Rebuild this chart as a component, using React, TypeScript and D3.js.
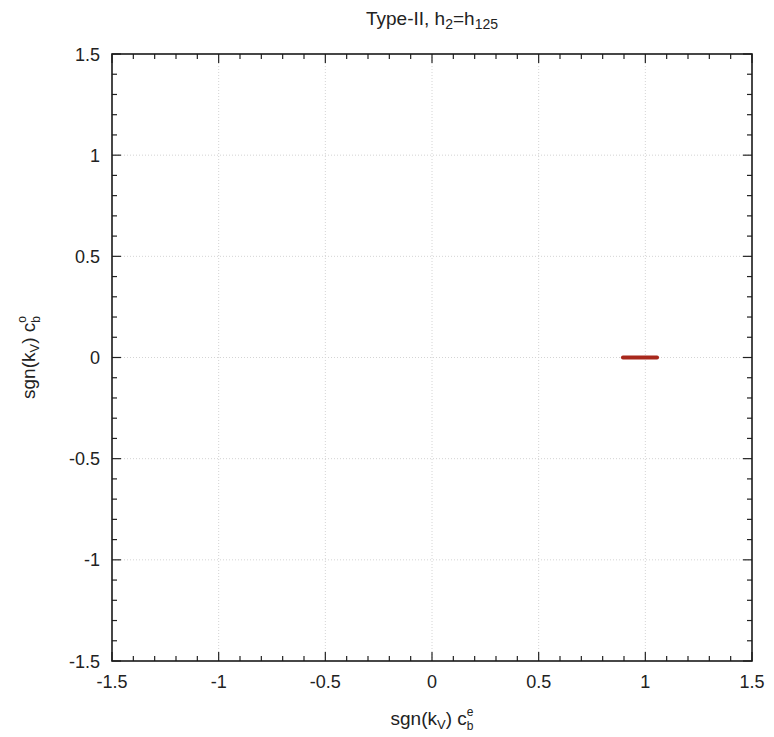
import React from "react";
import * as d3 from "d3";

const xDomain = [-1.5, 1.5];
const yDomain = [-1.5, 1.5];
const majorTicks = [-1.5, -1, -0.5, 0, 0.5, 1, 1.5];
const tickLabels = ["-1.5", "-1", "-0.5", "0", "0.5", "1", "1.5"];
const minorTicks = [
  -1.4, -1.3, -1.2, -1.1, -0.9, -0.8, -0.7, -0.6, -0.4, -0.3, -0.2, -0.1,
  0.1, 0.2, 0.3, 0.4, 0.6, 0.7, 0.8, 0.9, 1.1, 1.2, 1.3, 1.4,
];
// scan points: sgn(kV) c_b^e (x) vs sgn(kV) c_b^o (y)
const pointsX = [0.895, 0.92, 0.95, 0.975, 1.0, 1.02, 1.04, 1.055];
const pointsY = [0, 0, 0, 0, 0, 0, 0, 0];

const W = 774;
const H = 737;
const L = 112, R = 752, T = 54, B = 661;
const FONT = "'Liberation Sans', Arial, sans-serif";
const TXT = "#222";

export default function App() {
  const x = d3.scaleLinear().domain(xDomain).range([L, R]);
  const y = d3.scaleLinear().domain(yDomain).range([B, T]);
  const line = d3
    .line<number>()
    .x((_, i) => x(pointsX[i]))
    .y((_, i) => y(pointsY[i]));
  const majLen = 9;
  const minLen = 5;
  return (
    <svg
      width={W}
      height={H}
      style={{ position: "absolute", left: 0, top: 0, background: "#fff" }}
      fontFamily={FONT}
    >
      <rect x={0} y={0} width={W} height={H} fill="#fff" />
      {/* grid */}
      {majorTicks.slice(1, -1).map((v) => (
        <g key={"g" + v}>
          <line x1={x(v)} x2={x(v)} y1={T} y2={B} stroke="#d4d4d4" strokeWidth={1} strokeDasharray="1,2" />
          <line x1={L} x2={R} y1={y(v)} y2={y(v)} stroke="#d4d4d4" strokeWidth={1} strokeDasharray="1,2" />
        </g>
      ))}
      {/* data */}
      <path
        d={line(pointsX) || ""}
        fill="none"
        stroke="#a8281c"
        strokeWidth={4}
        strokeLinecap="round"
      />
      {/* ticks */}
      {majorTicks.map((v) => (
        <g key={"M" + v} stroke="#222" strokeWidth={1.2}>
          <line x1={x(v)} x2={x(v)} y1={B} y2={B - majLen} />
          <line x1={x(v)} x2={x(v)} y1={T} y2={T + majLen} />
          <line x1={L} x2={L + majLen} y1={y(v)} y2={y(v)} />
          <line x1={R} x2={R - majLen} y1={y(v)} y2={y(v)} />
        </g>
      ))}
      {minorTicks.map((v) => (
        <g key={"m" + v} stroke="#222" strokeWidth={1.2}>
          <line x1={x(v)} x2={x(v)} y1={B} y2={B - minLen} />
          <line x1={x(v)} x2={x(v)} y1={T} y2={T + minLen} />
          <line x1={L} x2={L + minLen} y1={y(v)} y2={y(v)} />
          <line x1={R} x2={R - minLen} y1={y(v)} y2={y(v)} />
        </g>
      ))}
      {/* frame */}
      <rect x={L} y={T} width={R - L} height={B - T} fill="none" stroke="#1a1a1a" strokeWidth={1.6} />
      {/* tick labels */}
      {majorTicks.map((v, i) => (
        <text key={"xl" + v} x={x(v)} y={B + 27} textAnchor="middle" fontSize={18} fill={TXT}>
          {tickLabels[i]}
        </text>
      ))}
      {majorTicks.map((v, i) => (
        <text key={"yl" + v} x={L - 12} y={y(v) + 6.5} textAnchor="end" fontSize={18} fill={TXT}>
          {tickLabels[i]}
        </text>
      ))}
      {/* title */}
      <text x={432} y={25} textAnchor="middle" fontSize={19} fill={TXT}>
        Type-II, h
        <tspan fontSize={14} dy={4}>2</tspan>
        <tspan dy={-4}>=h</tspan>
        <tspan fontSize={14} dy={4}>125</tspan>
      </text>
      {/* x label */}
      <text x={432} y={725} textAnchor="middle" fontSize={19} fill={TXT}>
        sgn(k
        <tspan fontSize={13} dy={4}>V</tspan>
        <tspan dy={-4}>) c</tspan>
        <tspan fontSize={12} dy={-9}>e</tspan>
        <tspan fontSize={12} dx={-6.7} dy={14}>b</tspan>
      </text>
      {/* y label */}
      <text
        transform={`translate(35,${y(0)}) rotate(-90)`}
        textAnchor="middle"
        fontSize={19}
        fill={TXT}
      >
        sgn(k
        <tspan fontSize={13} dy={4}>V</tspan>
        <tspan dy={-4}>) c</tspan>
        <tspan fontSize={12} dy={-9}>o</tspan>
        <tspan fontSize={12} dx={-6.7} dy={14}>b</tspan>
      </text>
    </svg>
  );
}
